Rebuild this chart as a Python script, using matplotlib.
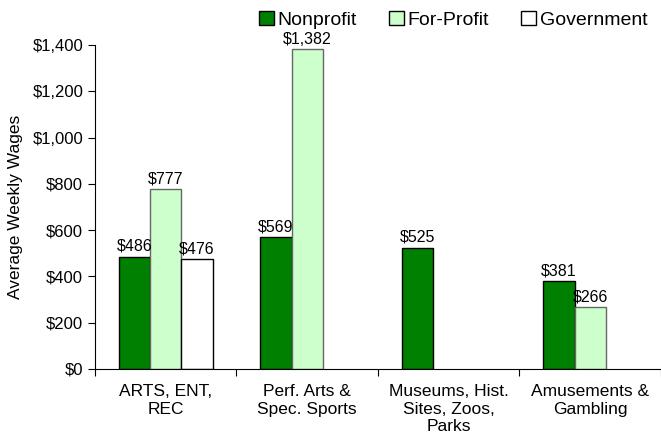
import numpy as np
import matplotlib
matplotlib.use("Agg")
import matplotlib.pyplot as plt
from matplotlib.patches import Patch

plt.rcParams['font.family'] = ['Liberation Sans', 'DejaVu Sans']

categories = ["ARTS, ENT,\nREC", "Perf. Arts &\nSpec. Sports",
              "Museums, Hist.\nSites, Zoos,\nParks", "Amusements &\nGambling"]
series_names = ["Nonprofit", "For-Profit", "Government"]
nonprofit = [486, 569, 525, 381]
forprofit = [777, 1382, np.nan, 266]
government = [476, np.nan, np.nan, np.nan]
yticks = [0, 200, 400, 600, 800, 1000, 1200, 1400]

colors = ["#008000", "#CCFFCC", "#FFFFFF"]
edges = ["#000000", "#666666", "#000000"]

fig = plt.figure(figsize=(6.61, 4.47), dpi=100)
ax = fig.add_axes([0.1437, 0.1745, 0.8563, 0.7245])

x = np.arange(len(categories))
w = 0.222
for i, (vals, c, e) in enumerate(zip([nonprofit, forprofit, government], colors, edges)):
    pos = x + (i - 1) * w
    ax.bar(pos, vals, width=w, color=c, edgecolor=e, linewidth=1.0)
    for p, v in zip(pos, vals):
        if not np.isnan(v):
            ax.text(p, v + 12, "${:,.0f}".format(v), ha='center', va='bottom', fontsize=11.5)

ax.set_xlim(-0.5, len(categories) - 0.5)
ax.set_ylim(0, 1400)
ax.set_yticks(yticks)
ax.set_yticklabels(["${:,}".format(v) for v in yticks], fontsize=12)
ax.set_xticks(np.arange(len(categories) + 1) - 0.5, minor=False)
ax.set_xticklabels([])
ax.set_xticks(x, minor=True)
ax.set_xticklabels(categories, minor=True, fontsize=12.5)
ax.tick_params(axis='x', which='minor', length=0, pad=11)
ax.tick_params(axis='x', which='major', length=5, direction='out')
ax.tick_params(axis='y', length=5, direction='out')
ax.spines['top'].set_visible(False)
ax.spines['right'].set_visible(False)
ax.set_ylabel("Average Weekly Wages", fontsize=12.5, labelpad=7)

handles = [Patch(facecolor=c, edgecolor='black', linewidth=1.0) for c in colors]
fig.legend(handles, series_names, loc='upper right', bbox_to_anchor=(1.006, 1.015), ncol=3,
           frameon=False, fontsize=14, handlelength=0.75, handleheight=0.75,
           handletextpad=0.2, columnspacing=1.65)

fig.savefig("out.png", dpi=100)
